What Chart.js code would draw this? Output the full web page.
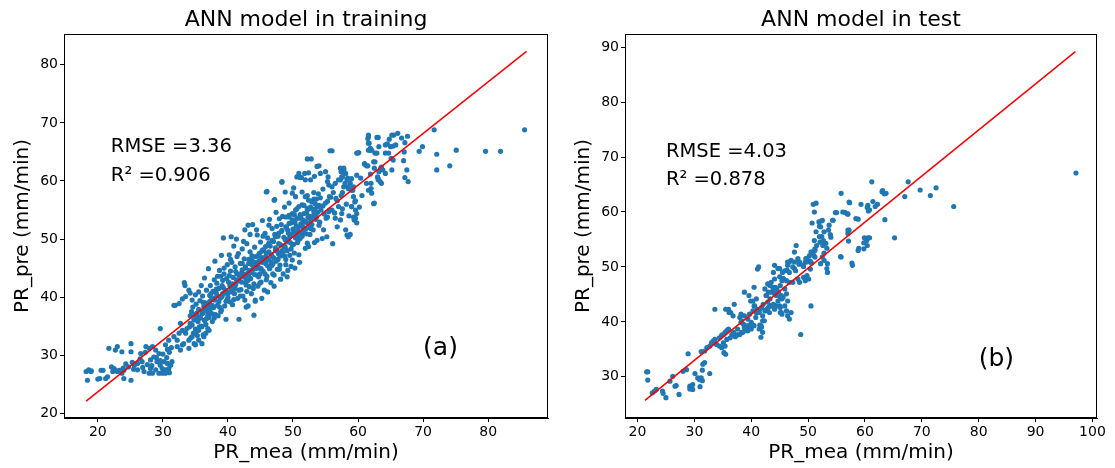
<!DOCTYPE html>
<html>
<head>
<meta charset="utf-8">
<script src="https://cdn.jsdelivr.net/npm/chart.js@4.4.1/dist/chart.umd.min.js"></script>
<style>
  html, body { margin: 0; padding: 0; background: #fff; }
  #wrap { position: relative; width: 1115px; height: 468px; }
  .panel { position: absolute; top: 0; height: 468px; }
</style>
</head>
<body>
<div id="wrap">
  <div class="panel" style="left:0;width:560px"><canvas id="trainChart" width="560" height="468"></canvas></div>
  <div class="panel" style="left:560px;width:555px"><canvas id="testChart" width="555" height="468"></canvas></div>
</div>
<script>
// (a) training set: [PR_mea, PR_pre]
const trainPoints = [
  [18.2,27.2],[18.6,27.5],[18.9,27.2],[18.4,25.7],[20.0,25.9],[20.3,26.0],[20.8,27.4],[21.2,26.0],[21.7,31.2],[22.7,30.9],
  [23.0,31.5],[23.7,30.6],[22.1,28.0],[22.5,27.7],[22.7,27.4],[23.0,27.2],[23.3,27.4],[23.7,26.9],[24.0,27.4],[24.3,28.5],
  [22.3,27.2],[21.5,26.3],[25.1,32.0],[25.1,25.7],[24.0,26.0],[25.1,30.6],[26.6,30.3],[27.4,31.5],[27.9,31.2],[26.8,28.9],
  [26.1,28.6],[25.6,28.3],[26.1,27.5],[27.1,27.2],[27.9,26.9],[28.4,31.5],[28.9,30.9],[29.4,30.3],[28.6,29.7],[28.1,29.2],
  [29.1,28.9],[29.6,28.3],[28.1,27.7],[28.9,27.5],[28.4,26.9],[29.4,26.9],[29.9,27.7],[30.2,28.9],[30.7,28.6],[30.4,27.5],
  [30.9,27.7],[31.2,28.3],[31.4,28.9],[29.9,26.9],[30.4,26.9],[29.6,34.6],[30.4,31.8],[30.9,32.6],[31.7,33.2],[32.2,32.6],
  [24.7,28.0],[25.3,28.8],[26.5,29.4],[27.3,30.5],[23.9,27.8],[26.9,27.9],[27.6,28.4],[28.3,28.2],[29.0,29.6],[29.6,29.1],
  [30.0,30.2],[30.6,29.6],[31.0,30.5],[31.3,31.3],[30.7,31.0],[31.0,27.0],[30.8,27.3],[19.0,27.3],[20.5,27.4],[25.5,27.6],
  [32.5,33.8],[32.7,35.5],[33.0,34.3],[33.7,34.6],[34.2,35.5],[34.8,36.1],[35.3,36.6],[36.1,37.2],[36.6,37.8],[37.1,38.3],
  [32.2,31.5],[32.7,30.9],[33.0,31.8],[33.2,32.0],[34.0,32.6],[34.5,33.2],[35.0,33.8],[35.5,34.3],[36.0,34.9],[33.5,33.8],
  [34.8,32.0],[35.5,32.6],[36.3,33.2],[34.0,31.2],[35.0,31.8],[36.0,32.0],[36.6,33.8],[37.1,34.3],[31.9,38.6],[31.7,38.6],
  [32.5,38.9],[34.0,41.2],[34.2,40.7],[33.5,40.1],[34.5,39.5],[35.0,40.4],[35.5,40.9],[33.3,42.5],[33.4,42.0],[33.0,39.7],
  [34.1,34.9],[34.2,36.8],[34.3,33.0],[34.4,37.5],[34.5,35.2],[34.6,38.3],[34.7,33.8],[34.8,36.1],[34.9,37.0],[35.0,34.5],
  [35.1,38.8],[35.2,36.6],[35.3,33.4],[35.4,35.8],[35.5,37.9],[35.6,34.9],[35.7,39.4],[35.8,36.4],[35.9,35.0],[36.0,37.3],
  [36.1,40.2],[36.2,33.5],[36.3,38.4],[36.4,36.0],[36.5,39.0],[36.6,35.3],[36.7,41.2],[36.8,37.6],[36.9,34.6],[37.0,38.9],
  [37.1,36.5],[37.2,40.3],[37.3,42.0],[37.4,37.2],[37.5,39.6],[37.6,35.8],[37.7,41.0],[37.8,38.2],[37.9,43.0],[38.0,39.5],
  [38.1,37.0],[38.2,40.8],[38.3,42.4],[38.4,38.6],[38.5,36.8],[38.6,41.5],[38.7,44.6],[38.8,39.8],[38.9,43.6],[39.0,37.8],
  [39.1,42.0],[39.2,40.6],[39.3,50.2],[39.4,44.0],[39.5,38.5],[39.6,41.2],[39.7,36.2],[39.8,43.2],[39.9,45.6],[40.0,40.0],
  [40.1,42.6],[40.2,47.3],[40.3,39.2],[40.4,44.5],[40.5,41.5],[40.6,46.0],[40.7,38.7],[40.8,43.4],[40.9,48.8],[41.0,40.6],
  [41.1,45.2],[41.2,42.2],[41.3,50.0],[41.4,44.0],[41.5,39.8],[41.6,47.5],[41.7,36.2],[41.8,42.8],[41.9,45.8],[42.0,41.3],
  [42.1,44.2],[42.2,48.3],[42.3,40.2],[42.4,43.5],[42.5,46.6],[42.6,39.5],[42.7,45.0],[42.8,42.1],[42.9,49.2],[43.0,44.1],
  [43.1,38.5],[43.2,46.5],[43.3,41.8],[43.4,47.8],[43.5,43.2],[43.6,40.6],[43.7,45.6],[43.8,52.5],[43.9,44.8],[44.0,42.3],
  [44.1,48.6],[44.2,39.5],[44.3,46.0],[44.4,43.8],[44.5,50.7],[44.6,41.9],[44.7,47.2],[44.8,45.0],[44.9,44.0],[45.0,49.5],
  [45.1,42.6],[45.2,46.8],[45.3,53.2],[45.4,44.5],[45.5,48.2],[45.6,41.2],[45.7,51.0],[45.8,45.8],[45.9,47.6],[46.0,43.6],
  [46.1,50.2],[46.2,46.5],[46.3,52.4],[46.4,44.9],[46.5,48.8],[46.6,42.5],[46.7,47.3],[46.8,51.8],[46.9,45.7],[47.0,49.6],
  [47.1,43.8],[47.2,56.8],[47.3,48.0],[47.4,46.2],[47.5,52.2],[47.6,44.8],[47.7,50.5],[47.8,47.4],[47.9,53.5],[48.0,45.5],
  [48.1,49.0],[48.2,51.3],[48.3,59.8],[48.4,47.8],[48.5,44.0],[48.6,50.3],[48.7,55.5],[48.8,48.6],[48.9,46.5],[49.0,52.0],
  [49.1,49.5],[49.2,44.6],[49.3,51.0],[49.4,53.8],[49.5,47.2],[49.6,50.6],[49.7,45.3],[49.8,52.8],[49.9,49.0],[50.0,51.7],
  [50.1,58.8],[50.2,47.6],[50.3,53.0],[50.4,50.2],[50.5,52.3],[50.6,55.2],[50.7,51.5],[50.8,49.8],[50.9,53.6],[51.0,51.0],
  [51.1,54.2],[51.2,52.6],[51.3,60.6],[51.4,50.5],[51.5,53.3],[51.6,52.0],[51.7,55.8],[51.8,61.3],[51.9,53.0],[52.0,51.8],
  [52.1,54.5],[52.2,57.5],[52.3,52.8],[52.4,61.4],[52.5,53.9],[52.6,50.8],[52.7,55.5],[52.8,63.8],[52.9,52.5],[53.0,56.5],
  [53.1,54.0],[53.2,58.0],[53.3,49.4],[53.4,55.2],[53.5,53.4],[53.6,56.9],[53.7,62.5],[53.8,54.6],[53.9,57.8],[54.0,55.8],
  [36.3,37.6],[36.8,38.5],[37.3,38.0],[37.8,39.8],[38.3,40.3],[38.8,40.0],[39.3,41.6],[39.8,41.0],[40.3,42.0],[40.8,41.8],
  [41.3,43.0],[41.8,43.6],[42.3,44.0],[42.8,43.2],[43.3,44.6],[43.8,45.5],[44.3,44.9],[44.8,46.3],[45.3,46.0],[45.8,47.0],
  [46.3,47.8],[46.8,47.0],[47.3,48.5],[47.8,49.2],[48.3,48.0],[48.8,49.9],[49.3,50.1],[49.8,50.9],[50.3,51.2],[50.8,51.9],
  [51.3,52.3],[51.8,52.9],[52.3,53.7],[52.8,53.3],[53.3,54.3],[53.8,55.6],[54.3,55.0],[54.8,54.3],[55.3,56.5],[55.8,57.2],
  [35.2,37.2],[35.7,36.6],[36.2,39.1],[36.7,36.3],[37.2,39.3],[37.7,37.1],[38.2,41.4],[38.7,38.3],[39.2,42.9],[39.7,39.3],
  [40.2,43.7],[40.7,40.9],[41.2,44.4],[41.7,41.2],[42.2,45.8],[42.7,42.5],[43.2,43.5],[43.7,47.1],[44.2,45.3],[44.7,43.5],
  [45.2,47.9],[45.7,44.0],[46.2,49.0],[46.7,45.4],[47.2,50.8],[47.7,46.5],[48.2,52.5],[48.7,47.1],[49.2,51.5],[49.7,48.3],
  [50.2,54.2],[50.7,49.4],[51.2,53.8],[51.7,51.0],[52.2,55.3],[52.7,52.1],[53.2,56.9],[42.8,38.3],[44.2,39.3],[46.0,58.2],
  [37.4,40.6],[37.9,36.4],[38.4,43.6],[38.9,37.5],[39.4,45.0],[39.9,39.6],[40.4,46.5],[40.9,39.6],[41.4,47.0],[41.9,40.2],
  [42.4,49.6],[42.9,41.0],[43.4,50.8],[43.9,41.5],[44.4,51.6],[44.9,42.4],[45.4,50.5],[45.9,43.0],[46.4,53.4],[46.9,44.0],
  [47.4,54.6],[47.9,44.8],[48.4,53.9],[48.9,45.6],[49.4,56.2],[49.9,46.4],[50.4,57.3],[50.9,47.3],[51.4,58.1],[51.9,48.4],
  [44.0,36.9],[45.2,39.8],[46.1,40.9],[47.1,41.9],[48.1,43.1],[49.1,43.5],[50.3,45.0],[51.0,46.0],[40.5,50.4],[42.6,51.6],
  [43.1,52.4],[39.0,47.2],[38.0,46.2],[37.0,44.9],[36.4,43.3],[35.9,42.0],[39.6,40.7],[40.7,42.3],[41.6,42.9],[42.6,43.7],
  [43.6,44.2],[44.6,45.6],[45.6,46.6],[46.6,46.1],[47.6,47.9],[48.6,48.8],[49.6,49.4],[50.6,50.5],[51.6,51.4],[52.6,52.3],
  [53.6,53.8],[54.6,55.7],[55.6,55.0],[56.6,57.0],[57.6,58.0],[36.9,36.9],[37.6,38.6],[38.6,39.2],[39.1,40.1],[40.1,40.8],
  [41.1,41.5],[42.1,42.6],[43.1,42.9],[44.1,43.9],[45.1,44.9],[46.1,45.4],[47.1,46.7],[48.1,47.1],[49.1,48.0],[50.1,49.1],
  [51.1,50.1],[52.1,50.9],[53.1,51.6],[54.1,52.9],[55.1,53.6],
  [51.9,57.3],[52.4,56.7],[52.9,56.4],[53.4,56.1],[51.4,55.9],[50.9,55.6],[50.4,55.0],[49.9,54.4],[49.4,54.1],[48.9,53.8],
  [49.9,53.3],[50.6,53.6],[51.1,53.8],[51.7,54.4],[52.2,55.0],[52.7,55.3],[53.2,54.7],[49.4,52.7],[48.9,52.1],[48.3,51.5],
  [47.8,51.0],[47.3,50.4],[46.8,49.8],[46.3,49.3],[45.8,48.7],[45.3,48.1],[44.8,47.5],[44.3,47.0],[43.7,46.4],[43.2,45.8],
  [42.7,45.2],[42.2,44.7],[52.2,63.8],[48.3,59.9],[48.8,58.1],[45.9,58.1],[47.1,56.7],[49.9,57.9],[55.7,65.2],[56.0,65.2],
  [54.0,62.6],[54.2,61.3],[53.3,60.8],[52.7,60.2],[51.9,60.2],[51.1,60.6],[50.6,60.7],[50.9,61.3],
  [55.0,61.6],[55.4,60.7],[55.3,59.9],[55.5,59.3],[56.0,59.0],[56.5,59.6],[57.0,60.2],[57.5,60.7],[57.8,61.9],[58.1,61.3],
  [57.3,62.2],[58.5,59.0],[59.0,58.4],[59.3,57.3],[59.5,56.4],[59.0,55.6],[59.6,55.0],[59.8,54.4],[59.3,53.8],[59.6,53.6],
  [58.1,51.6],[58.3,50.7],[58.5,50.4],[57.0,55.6],[56.0,55.0],[55.5,54.7],[55.3,53.8],[56.5,53.6],[57.3,53.3],[57.5,54.4],
  [56.8,52.1],[54.0,52.4],[54.7,51.6],[55.2,50.4],[54.5,50.1],[53.7,49.8],[52.4,48.7],[52.2,49.3],[52.7,51.8],[56.1,49.2],
  [54.2,57.1],[54.6,58.6],[55.0,56.2],[55.6,57.3],[56.2,58.0],[56.4,54.5],[56.8,56.6],[57.4,57.5],[57.6,55.2],[58.0,59.6],
  [58.2,56.0],[58.4,60.5],[58.6,54.0],[58.8,50.8],[59.0,55.6],[59.2,58.4],[59.4,53.3],[59.6,56.6],[59.8,52.8],[60.0,64.8],
  [60.2,55.5],[60.4,60.5],[60.6,57.5],[60.1,64.9],[62.5,56.2],[57.8,62.2],[57.4,61.6],[58.0,61.3],[57.6,60.7],[58.3,60.2],
  [57.3,60.2],[59.0,60.4],[59.8,61.0],[58.8,59.6],[59.3,59.0],[57.8,59.0],[58.5,58.7],
  [61.6,67.6],[62.9,67.5],[64.2,66.2],[61.6,66.5],[61.9,65.3],[62.6,64.8],[64.2,64.8],[59.8,64.8],
  [61.0,63.0],[61.3,62.6],[62.6,63.3],[63.6,62.4],[64.2,61.3],[63.1,60.4],[63.6,59.6],[61.3,59.6],[61.6,58.4],[62.1,57.9],
  [62.4,56.1],[61.6,67.9],[61.5,67.3],[61.7,66.5],[61.9,65.6],[61.6,65.3],[62.1,65.3],[61.0,62.9],[61.5,62.6],[62.4,63.3],
  [61.9,61.2],[62.5,62.2],[63.2,61.6],[63.5,62.2],[63.0,60.7],[63.8,61.9],[63.4,59.9],[63.1,60.2],[62.0,59.6],[62.0,58.7],
  [63.1,67.5],[63.2,65.9],[62.9,64.8],[67.6,67.7],[66.7,67.4],[66.1,68.2],[65.5,67.9],[65.2,67.9],[64.8,67.2],[64.5,66.4],
  [65.0,65.9],[65.4,66.0],[65.8,66.2],[67.2,66.6],[67.1,65.0],[67.0,63.5],[67.5,61.9],[67.2,60.6],[67.7,59.9],[65.2,61.9],
  [65.4,63.6],[64.7,64.8],[65.1,63.9],[69.9,65.9],[69.4,65.1],[71.7,68.8],[72.1,64.6],[72.1,61.9],[74.1,62.6],[75.1,65.3],
  [79.6,65.1],[81.9,65.1],[85.6,68.8]
];

// (b) test set: [PR_mea, PR_pre]
const testPoints = [
  [21.6,30.9],[21.8,30.9],[21.8,29.4],[22.6,27.1],[23.0,27.4],[23.3,27.7],[24.4,27.4],[24.5,27.0],[25.0,26.2],[26.2,30.1],
  [25.7,29.2],[27.3,26.8],[28.0,31.0],[28.6,31.3],[26.6,28.3],[26.8,28.4],[28.9,34.2],[29.2,28.3],[29.4,28.0],[29.7,27.7],
  [29.2,27.8],[29.7,28.6],[30.1,30.6],[30.6,29.8],[30.9,29.5],[31.2,29.8],[31.4,29.3],[31.0,28.2],[31.4,31.2],[32.7,30.6],
  [31.5,32.3],[31.8,32.6],[31.2,34.6],[31.8,34.7],[32.2,35.3],[32.7,35.6],[33.3,36.5],[33.6,36.8],[33.0,36.2],[33.9,35.9],
  [34.4,35.6],[34.8,35.3],[33.6,42.3],[34.4,37.1],[34.8,37.6],[35.1,37.7],[35.4,38.1],[35.7,38.4],[36.0,38.7],[35.1,36.2],
  [35.4,35.6],[35.2,34.4],[35.5,34.1],[36.0,42.3],[36.4,41.7],[35.7,36.8],[36.3,37.1],[36.6,37.7],[36.9,38.1],[37.2,37.3],
  [37.5,37.6],[37.7,37.7],[38.0,37.7],[38.3,38.1],[38.0,40.8],[38.3,40.2],[38.6,39.6],[38.9,39.3],[39.2,39.0],[39.5,39.3],
  [38.9,38.7],[39.2,38.4],[39.7,41.4],[40.3,42.0],[40.6,42.9],[40.9,41.7],[41.5,42.3],[41.8,42.6],[42.1,43.2],[41.4,38.7],
  [41.8,39.0],[41.5,39.4],[40.3,43.8],[40.9,44.2],[42.4,42.0],[42.7,42.3],[43.0,42.6],[43.3,42.9],[42.7,44.8],[43.0,45.4],
  [43.3,44.2],[42.4,46.0],[43.3,46.6],[43.9,45.7],[44.2,46.3],[44.5,46.0],[44.8,45.4],[43.9,43.2],[44.5,42.9],[45.1,42.6],
  [45.1,46.6],[45.4,47.5],[45.7,47.8],[44.7,49.7],[44.1,50.3],[43.9,49.0],[45.1,44.5],[45.4,44.2],[45.4,41.4],[45.1,41.7],
  [41.3,50.0],[37.0,43.2],[35.5,42.3],[36.1,41.7],[36.8,41.1],[38.2,41.4],[38.8,41.1],[39.4,40.5],[40.0,39.9],[40.5,39.3],
  [38.2,39.9],[38.8,39.0],[37.6,38.7],[38.5,38.1],[39.4,38.4],[40.0,38.7],[40.3,39.3],[42.0,40.2],[42.0,38.1],[41.7,37.2],
  [41.1,49.6],[40.5,46.3],[38.8,45.4],[39.6,44.8],[39.9,43.8],[40.5,42.9],[41.1,42.3],[41.4,41.7],[42.0,41.1],[42.3,40.2],
  [41.7,39.3],[40.8,40.8],[42.9,43.6],[43.5,42.9],[44.1,42.3],[43.2,41.7],[42.6,44.8],[43.5,45.4],[44.4,44.8],[44.7,43.8],
  [45.0,42.9],[45.3,44.8],[45.0,49.7],[45.9,49.3],[46.7,49.0],[47.6,49.7],[45.0,48.2],[45.6,47.9],[46.2,47.5],[46.7,47.2],
  [47.3,47.2],[48.2,47.8],[44.1,47.8],[43.5,47.2],[42.9,46.9],[43.8,46.3],[44.4,46.0],[44.1,45.1],[45.9,46.0],[46.2,45.1],
  [45.6,44.5],[46.4,43.8],[45.9,42.9],[46.2,42.0],[47.0,41.7],[45.3,41.7],[46.4,41.1],[46.7,40.5],[50.5,42.9],[48.7,37.7],
  [46.7,50.9],[47.0,51.2],[46.4,50.3],[47.3,50.0],[47.8,49.3],[48.4,50.5],[50.4,49.6],[49.8,48.4],[49.5,47.5],[50.1,47.8],
  [49.2,48.1],[48.5,47.2],[47.9,53.9],[47.6,52.7],[48.2,51.5],[48.5,50.9],[51.5,53.9],[51.2,53.0],[50.6,52.7],[50.2,52.0],
  [49.8,51.5],[50.4,51.0],[49.5,50.9],[49.2,50.1],[53.1,54.3],[53.3,53.4],[52.8,52.5],[52.5,51.8],[52.8,51.2],[52.2,50.6],
  [57.3,61.7],[59.3,61.4],[60.5,61.2],[60.8,60.4],[51.4,61.6],[51.1,60.0],[55.0,59.9],[56.5,59.9],[57.0,59.6],[52.5,58.5],
  [51.9,58.2],[54.3,58.5],[53.7,57.6],[52.2,57.3],[52.8,56.4],[52.4,55.5],[58.8,58.7],[57.0,56.7],[57.0,56.1],[58.8,53.0],
  [59.8,53.3],[60.4,53.9],[60.3,54.8],[55.8,51.8],[57.8,50.3],[97.1,67.1],[75.6,61.0],[72.5,64.4],[71.5,63.0],[69.7,64.0],
  [67.6,65.5],[67.0,62.8],[65.2,55.3],[63.5,58.6],[63.4,63.3],[63.1,63.9],[63.7,63.4],[63.0,63.7],[61.2,65.5],[61.4,61.9],
  [62.2,61.4],[61.8,61.0],[60.4,60.8],[60.6,60.2],[58.4,58.8],[60.5,55.3],[59.9,55.3],[59.8,54.4],[60.8,55.3],[58.9,53.4],
  [57.7,50.7],[57.2,61.8],[56.9,59.7],[57.1,54.7],[57.2,56.7],[55.8,63.4],[56.1,60.0],[54.8,59.9],[54.4,58.5],[53.6,56.7],
  [55.7,51.9],[53.9,55.9],[54.0,55.4],[53.4,50.6],[53.3,49.7],[53.4,49.0],[52.4,58.4],[52.0,57.4],[50.9,61.4],[50.7,58.0],
  [51.4,56.4],[52.0,55.5],[52.1,54.5],[51.1,54.8],[52.6,53.9],[51.2,53.3],[50.5,52.7],[52.7,54.8],[49.8,50.9],[50.6,50.7],
  [51.0,52.1],[51.2,51.8],[49.6,51.5],[49.1,50.3],[47.6,50.9],[46.4,50.9],[46.3,49.4],[45.5,49.0]
];

// fitted line end points and ticks
const trainLineX = [18.2, 85.9];
const trainLineY = [22.1, 82.3];
const testLineX = [21.3, 97.0];
const testLineY = [25.7, 89.2];
const trainXTicks = [20, 30, 40, 50, 60, 70, 80];
const trainYTicks = [20, 30, 40, 50, 60, 70, 80];
const testXTicks = [20, 30, 40, 50, 60, 70, 80, 90, 100];
const testYTicks = [30, 40, 50, 60, 70, 80, 90];

const FONT = '"DejaVu Sans", sans-serif';
Chart.defaults.font.family = FONT;
Chart.defaults.color = '#000';

const panelExtras = {
  id: 'panelExtras',
  afterDatasetsDraw(chart, args, opts) {
    const { ctx, chartArea: a, scales: { x, y } } = chart;
    ctx.save();
    ctx.strokeStyle = '#000';
    ctx.lineWidth = 1;
    ctx.strokeRect(a.left + 0.5, a.top + 0.5, a.right - a.left - 1, a.bottom - a.top - 1);
    ctx.fillStyle = '#000';
    ctx.textBaseline = 'alphabetic';
    ctx.textAlign = 'left';
    opts.notes.forEach(n => {
      ctx.font = n.size + 'px ' + FONT;
      ctx.fillText(n.text, x.getPixelForValue(n.x), y.getPixelForValue(n.y));
    });
    ctx.restore();
  }
};

function makePanel(id, p) {
  const axis = (ticks, min, max, title, fit, titlePad) => ({
    type: 'linear',
    min: min,
    max: max,
    afterBuildTicks: s => { s.ticks = ticks.map(v => ({ value: v })); },
    afterFit: fit,
    grid: { drawOnChartArea: false, drawTicks: true, tickLength: 4, tickColor: '#000' },
    border: { display: true, color: '#000', width: 1 },
    ticks: { color: '#000', font: { size: 14 }, padding: 2, autoSkip: false, maxRotation: 0 },
    title: { display: true, text: title, color: '#000', font: { size: 20 }, padding: titlePad }
  });

  return new Chart(document.getElementById(id), {
    type: 'scatter',
    data: {
      datasets: [
        {
          type: 'line',
          data: p.lineX.map((v, i) => ({ x: v, y: p.lineY[i] })),
          borderColor: 'red',
          borderWidth: 1.5,
          pointRadius: 0,
          fill: false
        },
        {
          data: p.points.map(d => ({ x: d[0], y: d[1] })),
          backgroundColor: '#1f77b4',
          borderWidth: 0,
          pointRadius: 2.6
        }
      ]
    },
    options: {
      responsive: false,
      animation: false,
      devicePixelRatio: 1,
      layout: { padding: { left: 0, right: p.rightPad, top: 0, bottom: 0 } },
      plugins: {
        legend: { display: false },
        tooltip: { enabled: false },
        title: {
          display: true, text: p.title, color: '#000', fullSize: false,
          font: { size: 22, weight: 'normal' }, padding: { top: 7, bottom: 0.6 }
        },
        panelExtras: { notes: p.notes }
      },
      scales: {
        x: axis(p.xTicks, p.xMin, p.xMax, 'PR_mea (mm/min)', s => { s.height = 50; }, { top: 0, bottom: 3 }),
        y: axis(p.yTicks, p.yMin, p.yMax, 'PR_pre (mm/min)', s => { s.width = p.yWidth; }, { top: p.yTitlePad, bottom: 0 })
      }
    },
    plugins: [panelExtras]
  });
}

makePanel('trainChart', {
  title: 'ANN model in training',
  points: trainPoints, lineX: trainLineX, lineY: trainLineY,
  xTicks: trainXTicks, yTicks: trainYTicks,
  xMin: 14.8, xMax: 89.2, yMin: 19.2, yMax: 85.3,
  yWidth: 64, rightPad: 12, yTitlePad: 11,
  notes: [
    { text: 'RMSE =3.36', x: 22, y: 65, size: 19.5 },
    { text: 'R\u00b2 =0.906', x: 22, y: 60, size: 19.5 },
    { text: '(a)', x: 70, y: 30, size: 25 }
  ]
});

makePanel('testChart', {
  title: 'ANN model in test',
  points: testPoints, lineX: testLineX, lineY: testLineY,
  xTicks: testXTicks, yTicks: testYTicks,
  xMin: 17.8, xMax: 100.8, yMin: 22.5, yMax: 92.4,
  yWidth: 65, rightPad: 18, yTitlePad: 12,
  notes: [
    { text: 'RMSE =4.03', x: 25, y: 70, size: 19.5 },
    { text: 'R\u00b2 =0.878', x: 25, y: 65, size: 19.5 },
    { text: '(b)', x: 80, y: 32, size: 25 }
  ]
});
</script>
</body>
</html>
